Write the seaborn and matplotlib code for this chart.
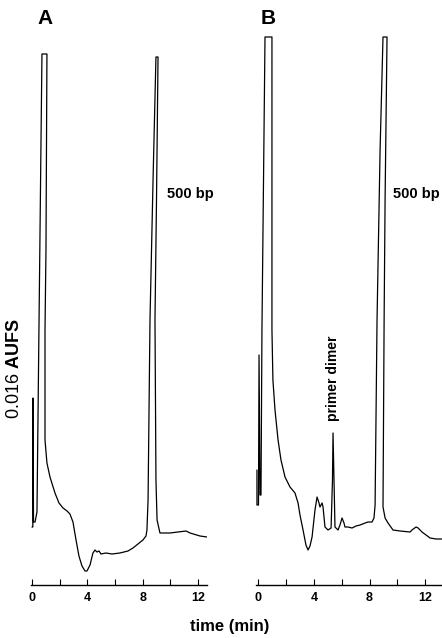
import matplotlib
matplotlib.use("Agg")
import matplotlib.pyplot as plt
import seaborn as sns
import pandas as pd

# ---- data (time in min, detector signal in arbitrary units) ----
time_A = [0.00, 0.06, 0.07, 0.11, 0.22, 0.36, 0.51, 0.72, 1.08, 1.01, 0.94, 0.94, 1.08, 1.30,
          1.66, 1.95, 2.24, 2.53, 2.74, 2.96, 3.18, 3.39, 3.61, 3.83, 3.97, 4.19, 4.40, 4.55,
          4.69, 4.84, 4.98, 5.34, 5.78, 6.35, 6.93, 7.29, 7.65, 8.01, 8.23, 8.30, 8.38, 8.52,
          8.74, 8.95, 9.10, 8.99, 8.88, 8.95, 9.03, 9.24, 9.60, 9.96, 10.54, 11.12, 11.41,
          12.13, 12.64]
signal_A = [58, 58, 187, 63, 63, 73, 265, 531, 531, 335, 255, 145, 122, 108,
            92, 82, 77, 74, 71, 63, 45, 29, 19, 14, 14, 20, 32, 35,
            33, 34, 31, 32, 31, 32, 34, 37, 41, 45, 49, 55, 85, 265,
            405, 528, 528, 385, 265, 105, 65, 52, 52, 52, 53, 54, 52,
            49, 48]

time_B = [-0.11, -0.11, 0.00, 0.04, 0.11, 0.18, 0.25, 0.47, 0.97, 0.97, 1.04, 1.19, 1.41,
          1.62, 1.91, 2.27, 2.63, 2.85, 2.99, 3.21, 3.42, 3.57, 3.71, 3.86, 4.07, 4.22,
          4.36, 4.43, 4.58, 4.65, 4.79, 5.01, 5.23, 5.33, 5.37, 5.44, 5.51, 5.73, 5.87,
          6.02, 6.16, 6.23, 6.45, 6.74, 7.03, 7.32, 7.68, 7.89, 8.18, 8.32, 8.40, 8.54,
          8.76, 8.97, 9.26, 9.12, 9.05, 8.97, 9.12, 9.33, 9.69, 10.20, 10.92, 11.06,
          11.35, 11.50, 11.78, 12.07, 12.36, 12.79, 13.23]
signal_B = [115, 80, 80, 230, 90, 90, 255, 548, 548, 255, 205, 175, 145,
            125, 108, 98, 92, 82, 70, 55, 40, 35, 39, 48, 75, 88,
            82, 78, 82, 78, 58, 55, 57, 105, 152, 105, 58, 55, 60,
            67, 62, 58, 58, 57, 59, 60, 62, 63, 63, 67, 80, 265,
            435, 548, 548, 385, 265, 78, 67, 62, 55, 54, 53, 55,
            58, 57, 53, 50, 47, 46, 46]

major_ticks = [0, 4, 8, 12]
minor_ticks = [2, 6, 10]
tick_labels = ["0", "4", "8", "12"]

# ---- styling ----
sns.set_theme(style="white")
plt.rcParams["font.family"] = ["Liberation Sans", "DejaVu Sans"]
plt.rcParams["mathtext.fontset"] = "custom"
plt.rcParams["mathtext.rm"] = "Liberation Sans"
plt.rcParams["mathtext.bf"] = "Liberation Sans:bold"
plt.rcParams["text.color"] = "black"
plt.rcParams["xtick.color"] = "black"
plt.rcParams["xtick.labelcolor"] = "black"

W, H = 442, 638
fig = plt.figure(figsize=(W / 100, H / 100), dpi=100)
fig.patch.set_facecolor("white")

axA = fig.add_axes([30.6 / W, 53 / H, 176.6 / W, 555 / H])
axB = fig.add_axes([256.4 / W, 53 / H, 185.6 / W, 555 / H])

panels = [
    (axA, time_A, signal_A, (-0.1, 12.65)),
    (axB, time_B, signal_B, (-0.15, 13.22)),
]

for ax, t, s, xlim in panels:
    df = pd.DataFrame({"time": t, "signal": s})
    sns.lineplot(data=df, x="time", y="signal", sort=False, estimator=None,
                 color="black", linewidth=0.9, ax=ax)
    ax.set_xlim(*xlim)
    ax.set_ylim(0, 555)
    ax.patch.set_visible(False)
    for sp in ["left", "top", "right"]:
        ax.spines[sp].set_visible(False)
    ax.spines["bottom"].set_color("black")
    ax.spines["bottom"].set_linewidth(1.0)
    ax.set_yticks([])
    ax.set_xticks(major_ticks)
    ax.set_xticks(minor_ticks, minor=True)
    ax.set_xticklabels(tick_labels, fontweight="bold", color="black")
    ax.tick_params(axis="x", which="both", direction="in", length=4, width=0.8,
                   color="black", pad=5, labelsize=9, bottom=True)
    ax.set_xlabel("")
    ax.set_ylabel("")


def ftext(x, y, s, **kw):
    fig.text(x / W, 1 - y / H, s, color="black", **kw)


ftext(45, 18, "A", fontsize=15, fontweight="bold", ha="center", va="center")
ftext(268, 19, "B", fontsize=15, fontweight="bold", ha="center", va="center")
ftext(167, 194, "500 bp", fontsize=10.5, fontweight="bold", ha="left", va="center")
ftext(393, 194, "500 bp", fontsize=10.5, fontweight="bold", ha="left", va="center")
ftext(333, 378, "primer dimer", fontsize=10, fontweight="bold", rotation=90,
      ha="center", va="center")
ftext(15, 369, r"0.016 $\mathbf{AUFS}$", fontsize=13, rotation=90,
      ha="center", va="center")
ftext(230, 627, "time (min)", fontsize=12, fontweight="bold", ha="center", va="center")

fig.savefig("out.png", dpi=100)
